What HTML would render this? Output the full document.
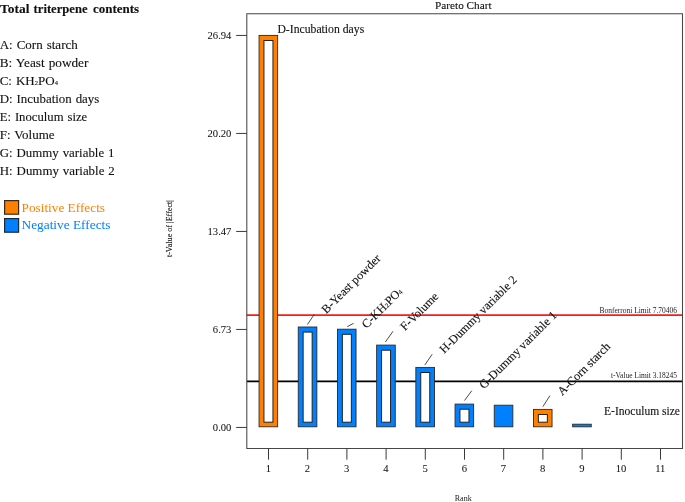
<!DOCTYPE html>
<html><head><meta charset="utf-8">
<style>
html,body{margin:0;padding:0;background:#fff;width:685px;height:502px;overflow:hidden}
svg{display:block;will-change:transform;font-family:"Liberation Serif",serif;}
text{fill:#111;stroke:#111;stroke-width:0.12px}
.tk text{stroke-width:0.05px;fill:#111}
.sm{fill:#1a1a1a;stroke:none}
.po{fill:#ff8000;stroke:none}
.ne{fill:#0080ff;stroke:none}
</style></head>
<body>
<svg width="685" height="502" viewBox="0 0 685 502">
<g font-size="12.8" font-weight="bold"><text x="0" y="12.8" textLength="29.4" lengthAdjust="spacingAndGlyphs">Total</text><text x="33.6" y="12.8" textLength="54" lengthAdjust="spacingAndGlyphs">triterpene</text><text x="92.9" y="12.8" textLength="46.2" lengthAdjust="spacingAndGlyphs">contents</text></g>
<g font-size="13" word-spacing="0.75">
<text x="-0.3" y="49">A: Corn starch</text>
<text x="-0.3" y="66.5" textLength="88.7" lengthAdjust="spacingAndGlyphs">B: Yeast powder</text>
<text x="-0.3" y="84.5">C: KH<tspan font-size="6.5">2</tspan>PO<tspan font-size="6.5">4</tspan></text>
<text x="-0.3" y="102.9" textLength="99.6" lengthAdjust="spacingAndGlyphs">D: Incubation days</text>
<text x="-0.3" y="121" textLength="87.5" lengthAdjust="spacingAndGlyphs">E: Inoculum size</text>
<text x="-0.3" y="139">F: Volume</text>
<text x="-0.3" y="157" textLength="114.8" lengthAdjust="spacingAndGlyphs">G: Dummy variable 1</text>
<text x="-0.3" y="175.2" textLength="115.1" lengthAdjust="spacingAndGlyphs">H: Dummy variable 2</text>
</g>
<rect x="4.6" y="200.6" width="14" height="13.6" fill="#ff8000" stroke="#3a2a1a" stroke-width="1.2"/>
<rect x="4.6" y="218.6" width="14" height="13.6" fill="#0080ff" stroke="#1a2a3a" stroke-width="1.2"/>
<text x="21.5" y="211.8" font-size="13" class="po" textLength="83.5" lengthAdjust="spacingAndGlyphs">Positive Effects</text>
<text x="21.5" y="228.6" font-size="13" class="ne" textLength="89" lengthAdjust="spacingAndGlyphs">Negative Effects</text>
<text class="sm" transform="translate(172.2,228.6) rotate(-90)" text-anchor="middle" font-size="8.1" textLength="57" lengthAdjust="spacingAndGlyphs" style="stroke:#1a1a1a;stroke-width:0.15px">t-Value of |Effect|</text>
<text x="463.3" y="8.8" text-anchor="middle" font-size="11" textLength="56.5" lengthAdjust="spacingAndGlyphs">Pareto Chart</text>
<line x1="246.8" y1="315.1" x2="682.5" y2="315.1" stroke="#ff1a1a" stroke-width="1.7"/>
<line x1="246.8" y1="381.4" x2="682.5" y2="381.4" stroke="#000" stroke-width="1.6"/>
<text class="sm" x="677" y="312.6" text-anchor="end" font-size="7.6" textLength="77.5" lengthAdjust="spacingAndGlyphs">Bonferroni Limit 7.70406</text>
<text class="sm" x="677" y="378.2" text-anchor="end" font-size="7.6" textLength="66" lengthAdjust="spacingAndGlyphs">t-Value Limit 3.18245</text>
<path d="M246.8 13.7H682.5V448.5H246.8Z" fill="none" stroke="#464646" stroke-width="1.05"/>
<g stroke="#3a3a3a" stroke-width="1">
<line x1="236.2" y1="35.45" x2="246.8" y2="35.45"/>
<line x1="236.2" y1="133.45" x2="246.8" y2="133.45"/>
<line x1="236.2" y1="231.45" x2="246.8" y2="231.45"/>
<line x1="236.2" y1="329.45" x2="246.8" y2="329.45"/>
<line x1="236.2" y1="427.45" x2="246.8" y2="427.45"/>
</g>
<g class="tk" font-size="10.6" text-anchor="end">
<text x="231.4" y="38.85">26.94</text>
<text x="231.4" y="136.85">20.20</text>
<text x="231.4" y="234.85">13.47</text>
<text x="231.4" y="332.85">6.73</text>
<text x="231.4" y="430.85">0.00</text>
</g>
<g stroke="#3a3a3a" stroke-width="1">
<line x1="268.5" y1="448.5" x2="268.5" y2="459.7"/>
<line x1="307.7" y1="448.5" x2="307.7" y2="459.7"/>
<line x1="346.9" y1="448.5" x2="346.9" y2="459.7"/>
<line x1="386.1" y1="448.5" x2="386.1" y2="459.7"/>
<line x1="425.3" y1="448.5" x2="425.3" y2="459.7"/>
<line x1="464.5" y1="448.5" x2="464.5" y2="459.7"/>
<line x1="503.7" y1="448.5" x2="503.7" y2="459.7"/>
<line x1="542.9" y1="448.5" x2="542.9" y2="459.7"/>
<line x1="582.1" y1="448.5" x2="582.1" y2="459.7"/>
<line x1="621.3" y1="448.5" x2="621.3" y2="459.7"/>
<line x1="660.5" y1="448.5" x2="660.5" y2="459.7"/>
</g>
<g class="tk" font-size="10.6" text-anchor="middle">
<text x="268.3" y="472.1">1</text>
<text x="307.5" y="472.1">2</text>
<text x="346.7" y="472.1">3</text>
<text x="385.9" y="472.1">4</text>
<text x="425.1" y="472.1">5</text>
<text x="464.3" y="472.1">6</text>
<text x="503.5" y="472.1">7</text>
<text x="542.7" y="472.1">8</text>
<text x="581.9" y="472.1">9</text>
<text x="621.1" y="472.1">10</text>
<text x="660.3" y="472.1">11</text>
</g>
<text class="sm" x="463.2" y="500.5" text-anchor="middle" font-size="8">Rank</text>
<rect x="259.05" y="35.4" width="18.6" height="391.4" fill="#ff8000" stroke="#2a2a2a" stroke-width="0.9"/>
<rect x="263.95" y="40.5" width="9" height="381.7" fill="#fff" stroke="#222" stroke-width="1"/>
<rect x="298.25" y="327" width="18.6" height="99.8" fill="#0080ff" stroke="#2a2a2a" stroke-width="0.9"/>
<rect x="303.15" y="332.1" width="9" height="90.1" fill="#fff" stroke="#222" stroke-width="1"/>
<rect x="337.45" y="329.2" width="18.6" height="97.6" fill="#0080ff" stroke="#2a2a2a" stroke-width="0.9"/>
<rect x="342.35" y="334.3" width="9" height="87.9" fill="#fff" stroke="#222" stroke-width="1"/>
<rect x="376.65" y="345.1" width="18.6" height="81.7" fill="#0080ff" stroke="#2a2a2a" stroke-width="0.9"/>
<rect x="381.55" y="350.2" width="9" height="72" fill="#fff" stroke="#222" stroke-width="1"/>
<rect x="415.85" y="367.4" width="18.6" height="59.4" fill="#0080ff" stroke="#2a2a2a" stroke-width="0.9"/>
<rect x="420.75" y="372.5" width="9" height="49.7" fill="#fff" stroke="#222" stroke-width="1"/>
<rect x="455.05" y="404.1" width="18.6" height="22.7" fill="#0080ff" stroke="#2a2a2a" stroke-width="0.9"/>
<rect x="459.95" y="409.2" width="9" height="13" fill="#fff" stroke="#222" stroke-width="1"/>
<rect x="494.25" y="405.2" width="18.6" height="21.6" fill="#0080ff" stroke="#2a2a2a" stroke-width="0.9"/>
<rect x="533.45" y="409.4" width="18.6" height="17.4" fill="#ff8000" stroke="#2a2a2a" stroke-width="0.9"/>
<rect x="538.35" y="414.5" width="9" height="7.7" fill="#fff" stroke="#222" stroke-width="1"/>
<rect x="572.65" y="424.2" width="18.6" height="2.6" fill="#0080ff" stroke="#2a2a2a" stroke-width="0.9"/>
<g stroke="#2a2a2a" stroke-width="0.85">
<line x1="307.4" y1="324.5" x2="314.2" y2="314.5"/>
<line x1="347.2" y1="326.6" x2="353.6" y2="323.4"/>
<line x1="385.4" y1="342" x2="393" y2="331.3"/>
<line x1="424.8" y1="365.1" x2="432.2" y2="354.2"/>
<line x1="464.5" y1="400.5" x2="471.8" y2="390.7"/>
<line x1="542.9" y1="406.6" x2="549.9" y2="395.7"/>
</g>
<text x="277.4" y="32.7" font-size="12.2" textLength="86.8" lengthAdjust="spacingAndGlyphs">D-Incubation days</text>
<g font-size="12.15">
<text transform="translate(326.2,314.3) rotate(-45)">B-Yeast powder</text>
<text transform="translate(366.5,329) rotate(-45)">C-KH<tspan font-size="6.5">2</tspan>PO<tspan font-size="6.5">4</tspan></text>
<text transform="translate(405,331.3) rotate(-45)">F-Volume</text>
<text transform="translate(444.2,354) rotate(-45)">H-Dummy variable 2</text>
<text transform="translate(484,389.5) rotate(-45)">G-Dummy variable 1</text>
<text transform="translate(562.2,396.1) rotate(-45)">A-Corn starch</text>
</g>
<text x="604" y="415" font-size="12" textLength="76" lengthAdjust="spacingAndGlyphs">E-Inoculum size</text>
</svg>
</body></html>
